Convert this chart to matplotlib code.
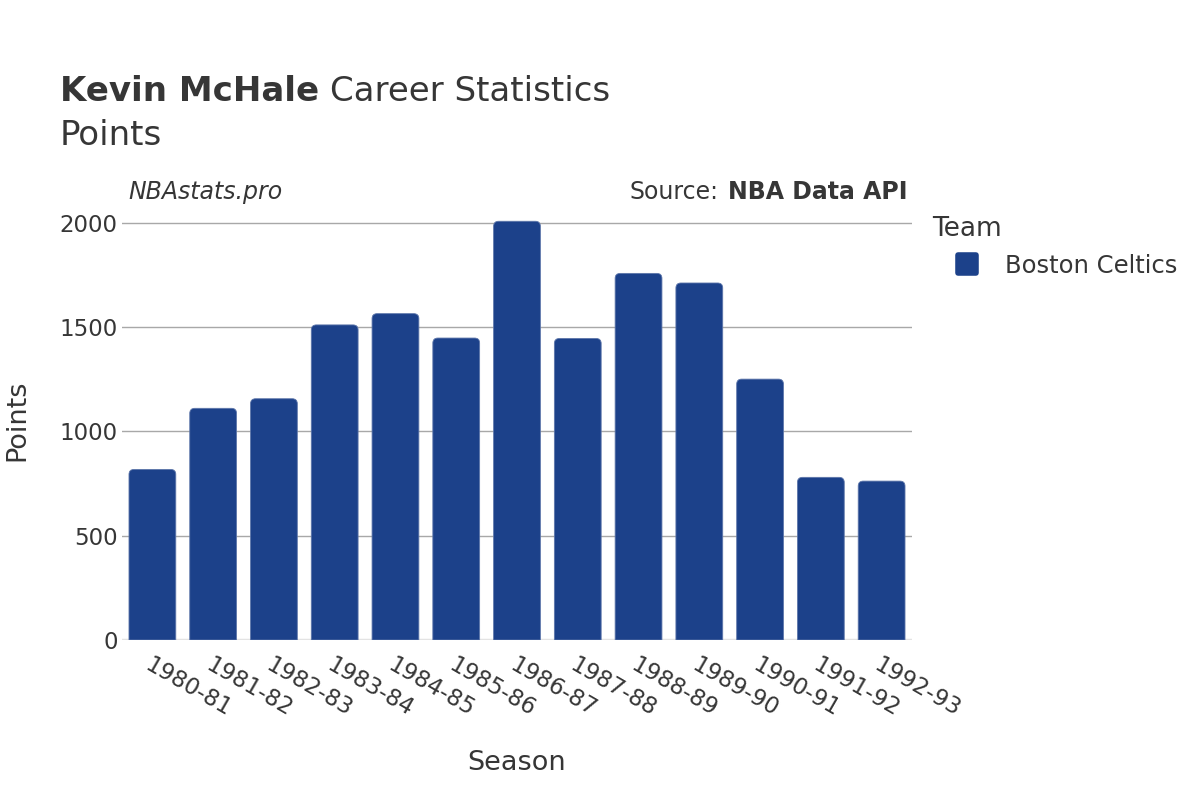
import matplotlib.pyplot as plt
from matplotlib.path import Path
from matplotlib.patches import PathPatch
from matplotlib.lines import Line2D
from matplotlib.markers import MarkerStyle
from matplotlib.transforms import IdentityTransform

seasons = ['1980-81', '1981-82', '1982-83', '1983-84', '1984-85', '1985-86', '1986-87',
           '1987-88', '1988-89', '1989-90', '1990-91', '1991-92', '1992-93']
points = [818, 1111, 1157, 1511, 1565, 1448, 2008, 1446, 1758, 1712, 1251, 780, 762]
team = 'Boston Celtics'
yticks = [0, 500, 1000, 1500, 2000]

plt.rcParams['font.family'] = 'DejaVu Sans'
txt = '#363636'
blue = '#1c418a'

fig = plt.figure(figsize=(12, 8), dpi=100)
ax = fig.add_axes([122/1200, 0.2, 790/1200, 0.55])

ax.set_xlim(-0.5, len(seasons) - 0.5)
ax.set_ylim(0, 2110)
bars = ax.bar(range(len(seasons)), points, width=0.77, color=blue)

# swap each bar for one with rounded top corners (pixel radius)
r = 5
for b in bars:
    (x0, y0), (x1, y1) = ax.transData.transform(
        [(b.get_x(), b.get_y()), (b.get_x() + b.get_width(), b.get_y() + b.get_height())])
    verts = [(x0, y0), (x0, y1 - r), (x0, y1), (x0 + r, y1), (x1 - r, y1),
             (x1, y1), (x1, y1 - r), (x1, y0), (x0, y0)]
    codes = [Path.MOVETO, Path.LINETO, Path.CURVE3, Path.CURVE3, Path.LINETO,
             Path.CURVE3, Path.CURVE3, Path.LINETO, Path.CLOSEPOLY]
    ax.add_patch(PathPatch(Path(verts, codes), facecolor=blue, edgecolor='#5d76aa',
                           linewidth=0.6, transform=IdentityTransform(), zorder=3))
    b.set_visible(False)

ax.set_yticks(yticks)
ax.set_yticklabels([str(v) for v in yticks])
ax.yaxis.grid(True, color='#a8a8a8', linewidth=1, zorder=0)
ax.set_axisbelow(True)
ax.axhline(0, color='#e3e3e3', linewidth=2.5, zorder=2)
for s in ax.spines.values():
    s.set_visible(False)
ax.tick_params(axis='both', length=0, labelsize=16.5, colors=txt)
ax.tick_params(axis='y', pad=3)
ax.set_xticks(range(len(seasons)))
ax.set_xticklabels(seasons, rotation=-30, ha='left', rotation_mode='anchor')
ax.tick_params(axis='x', pad=10)

ax.set_xlabel('Season', fontsize=19.5, color=txt, labelpad=20)
fig.text(17/1200, 1 - 420/800, 'Points', rotation=90, fontsize=19.5, color=txt,
         ha='center', va='center')

# title
fig.text(60/1200, 1 - 101/800, 'Kevin McHale', fontsize=24.5, fontweight='bold',
         color=txt, va='baseline')
fig.text(330/1200, 1 - 101/800, 'Career Statistics', fontsize=24.5, color=txt,
         va='baseline')
fig.text(60/1200, 1 - 145/800, 'Points', fontsize=24.5, color=txt, va='baseline')

fig.text(128/1200, 1 - 199/800, 'NBAstats.pro', fontsize=17, style='italic',
         color=txt, va='baseline')
fig.text(908/1200, 1 - 199/800, 'NBA Data API', fontsize=17, fontweight='bold',
         color=txt, va='baseline', ha='right')
fig.text(718/1200, 1 - 199/800, 'Source:', fontsize=17, color=txt,
         va='baseline', ha='right')

# legend
fig.text(932/1200, 1 - 236/800, 'Team', fontsize=19, color=txt, va='baseline')
handle = Line2D([], [], linestyle='none', color=blue,
                marker=MarkerStyle('s', joinstyle='round'), markersize=12.5,
                markeredgewidth=4)
leg = fig.legend(handles=[handle], labels=[team], loc='upper left',
                 bbox_to_anchor=(955/1200, 1 - 254/800), frameon=False,
                 fontsize=17.5, handlelength=1.0, handletextpad=1.05,
                 borderaxespad=0, borderpad=0)
for t in leg.get_texts():
    t.set_color(txt)

fig.savefig('out.png', dpi=100)
